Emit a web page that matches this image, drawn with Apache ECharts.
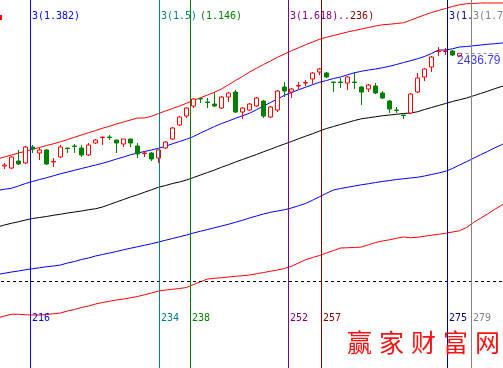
<!DOCTYPE html>
<html><head><meta charset="utf-8">
<script src="https://cdn.jsdelivr.net/npm/echarts@6/dist/echarts.min.js"></script>
<style>html,body{margin:0;padding:0;background:#fff}#c{width:503px;height:368px}</style>
</head><body><div id="c"></div><script>
// ---- candles (open, close, low, high) ----
const openP  = [1986,1978,2006,1998,2062,2038,2050,2002,2022,2058,2066,2058,2030,2078,2100,2102,2090,2074,2094,2066,2036,2038,2018,2058,2094,2150,2186,2226,2256,2242,2234,2218,2262,2282,2202,2210,2226,2246,2182,2210,2302,2282,2306,2318,2334,2362,2358,2322,2322,2318,2322,2302,2294,2306,2278,2246,2210,2190,2198,2282,2342,2382,2444,2444,2446,2426];
const closeP = [1990,2022,1994,2062,2054,2050,1994,2004,2062,2056,2064,2030,2070,2090,2102,2100,2078,2094,2078,2034,2038,2014,2050,2082,2138,2182,2218,2254,2254,2240,2226,2262,2278,2202,2218,2234,2258,2186,2222,2286,2286,2294,2308,2320,2358,2374,2342,2320,2320,2342,2320,2282,2310,2278,2258,2214,2208,2188,2274,2338,2374,2422,2446,2446,2430,2436.79];
const lowP   = [1974,1974,1990,1994,2038,2010,1990,1982,2018,2038,2038,2022,2026,2074,2070,2090,2038,2062,2062,2018,2022,2006,1998,2054,2090,2146,2178,2218,2238,2218,2222,2214,2242,2198,2174,2206,2222,2178,2178,2202,2262,2258,2294,2306,2314,2350,2338,2282,2298,2290,2294,2230,2282,2274,2254,2198,2198,2174,2194,2278,2326,2362,2426,2430,2426,2422];
const highP  = [1998,2026,2050,2066,2070,2058,2054,2018,2070,2058,2074,2070,2078,2094,2102,2110,2090,2094,2094,2078,2046,2042,2050,2086,2142,2186,2222,2258,2256,2258,2282,2266,2282,2290,2222,2238,2262,2250,2226,2290,2322,2298,2322,2330,2362,2378,2362,2322,2338,2346,2362,2306,2314,2318,2286,2250,2222,2190,2278,2358,2378,2426,2462,2458,2450,2438];

// ---- band lines (first value is bar -1) ----
const upperRed  = [2014,2022,2030,2038,2045,2053,2060,2068,2075,2083,2092,2101,2110,2119,2128,2137,2145,2154,2162,2170,2178,2178,2185,2196,2206,2216,2226,2237,2248,2259,2270,2281,2294,2311,2328,2344,2362,2377,2392,2406,2421,2434,2447,2459,2471,2482,2493,2501,2508,2515,2522,2528,2534,2540,2546,2551,2553,2556,2559,2569,2580,2590,2600,2608,2616,2624,2631,2635,2636,2638,2638,2638,2638,2638];
const upperBlue = [1888,1893,1897,1906,1916,1924,1932,1939,1947,1955,1962,1969,1976,1983,1990,1997,2005,2014,2022,2031,2038,2044,2050,2057,2065,2075,2084,2093,2104,2118,2131,2144,2156,2166,2177,2187,2197,2211,2226,2240,2254,2269,2280,2291,2301,2311,2321,2328,2336,2342,2351,2359,2365,2370,2374,2379,2385,2392,2400,2407,2415,2424,2436,2450,2450,2455,2462,2464,2467,2470,2473,2475,2478,2480];
const midBlack  = [1742,1750,1757,1763,1770,1776,1780,1784,1789,1793,1798,1802,1806,1811,1815,1822,1832,1842,1852,1862,1871,1881,1891,1901,1908,1916,1922,1930,1940,1950,1960,1970,1981,1991,2002,2012,2022,2032,2043,2053,2064,2074,2084,2095,2105,2115,2126,2136,2144,2152,2160,2168,2175,2179,2183,2187,2190,2193,2196,2198,2203,2212,2220,2228,2236,2244,2251,2258,2267,2276,2285,2295,2304,2314];
const lowerBlue = [1552,1557,1562,1566,1571,1575,1579,1583,1586,1590,1598,1604,1612,1618,1626,1632,1638,1644,1651,1657,1663,1669,1675,1682,1689,1696,1703,1710,1718,1725,1732,1739,1746,1753,1761,1769,1778,1786,1794,1801,1806,1811,1818,1827,1836,1849,1863,1877,1890,1896,1901,1906,1911,1915,1920,1924,1928,1932,1935,1938,1941,1946,1952,1958,1965,1976,1990,2003,2017,2031,2044,2058,2071,2086];
const lowerRed  = [1378,1386,1393,1393,1391,1390,1390,1392,1395,1398,1406,1412,1420,1426,1434,1440,1445,1450,1454,1459,1464,1471,1478,1486,1490,1493,1496,1500,1512,1523,1534,1537,1539,1542,1545,1547,1550,1555,1560,1565,1570,1576,1585,1598,1611,1620,1628,1638,1648,1658,1659,1660,1662,1671,1680,1686,1691,1697,1702,1699,1701,1705,1709,1713,1717,1722,1727,1740,1760,1777,1794,1812,1829,1846];

// ---- time-cycle lines ----
const cyclePos    = [3.71, 22.14, 26.57, 40.57, 45.29, 63.29, 66.71];
const cycleTop    = ['3(1.382)', '3(1.5)', '(1.146)', '3(1.618)', '..236)', '3(1.', '3(1.7'];
const cycleBottom = ['216', '234', '238', '252', '257', '275', '279'];
const baseLevel = 1524;
const lastPrice = 2436.79;
const watermark = '赢家财富网';

// ---- styles ----
const cycleColors = ['#0000ff', '#008080', '#008000', '#800080', '#800000', '#000080', '#808080'];
const topShift = [0, 0, 8, 0, 15, 0, 0];
const NCAT = 72;
const YMIN = 1178, YMAX = 2650;

const cats = Array.from({length: NCAT}, (_, i) => String(i + 1));
const candleData = openP.map((o, i) => [o, closeP[i], lowP[i], highP[i]]);
const toXY = arr => arr.map((v, i) => [i - 1, v]);
const monoFont = '10px "DejaVu Sans Mono"';

function bandLine(arr, color) {
  return {type: 'line', xAxisIndex: 1, yAxisIndex: 0, data: toXY(arr), showSymbol: false, symbol: 'none',
    clip: false, silent: true, z: 3, lineStyle: {color: color, width: 1}};
}

const chart = echarts.init(document.getElementById('c'), null, {renderer: 'canvas'});
const option = {
  animation: false,
  backgroundColor: '#ffffff',
  grid: {left: 1, top: 0, width: NCAT * 7, height: 368, containLabel: false, outerBoundsMode: 'none'},
  xAxis: [
    {type: 'category', data: cats, boundaryGap: true, show: false},
    {type: 'value', min: -0.5, max: NCAT - 0.5, show: false}
  ],
  yAxis: {type: 'value', min: YMIN, max: YMAX, show: false, splitLine: {show: false}},
  series: [
    bandLine(upperRed, '#ff0000'),
    bandLine(upperBlue, '#0000ff'),
    bandLine(midBlack, '#000000'),
    bandLine(lowerBlue, '#0000ff'),
    bandLine(lowerRed, '#ff0000'),
    {
      type: 'candlestick', xAxisIndex: 0, yAxisIndex: 0, data: candleData, barWidth: 5, z: 4,
      itemStyle: {color: '#ffffff', color0: '#008000', borderColor: '#ff0000', borderColor0: '#008000', borderWidth: 1},
      silent: true,
      markLine: {
        silent: true, symbol: ['none', 'none'], animation: false,
        label: {show: false},
        emphasis: {disabled: true},
        data: [
          {yAxis: baseLevel, lineStyle: {type: [3, 3], color: '#000000', width: 1}, label: {show: false}},
          [
            {coord: [openP.length - 1, lastPrice], lineStyle: {type: [3, 3], color: '#909090', width: 1},
             label: {show: true, position: 'insideEndBottom', distance: 1, formatter: lastPrice.toFixed(2),
                     color: '#3a3aff', fontSize: 12, fontFamily: 'Liberation Sans'}},
            {coord: [NCAT - 1, lastPrice]}
          ]
        ]
      }
    },
    {
      type: 'custom', xAxisIndex: 1, yAxisIndex: 0, silent: true, z: 6,
      data: cyclePos.map(v => [v, baseLevel]),
      renderItem: function (params, api) {
        const i = params.dataIndex;
        const cs = params.coordSys;
        const x = api.coord([api.value(0), api.value(1)])[0];
        const col = cycleColors[i];
        return {type: 'group', children: [
          {type: 'line', shape: {x1: x, y1: cs.y, x2: x, y2: cs.y + cs.height}, style: {stroke: col, lineWidth: 1}},
          {type: 'text', x: x + 1.5 + topShift[i], y: 11, style: {text: cycleTop[i], fill: col, font: monoFont, align: 'left', verticalAlign: 'top'}},
          {type: 'text', x: x + 1.5, y: 313, style: {text: cycleBottom[i], fill: col, font: monoFont, align: 'left', verticalAlign: 'top'}}
        ]};
      }
    }
  ],
  graphic: [
    {type: 'rect', left: 0, top: 15, shape: {width: 2, height: 5}, style: {fill: '#ff0000'}, silent: true}
  ].concat(watermark.split('').map((ch, i) => ({
    type: 'text', left: 347 + i * 32, top: 330, silent: true, z: 10,
    style: {text: ch, fill: '#ff1010', font: '25px "Noto Sans CJK SC"'}
  })))
};
chart.setOption(option);
</script></body></html>
